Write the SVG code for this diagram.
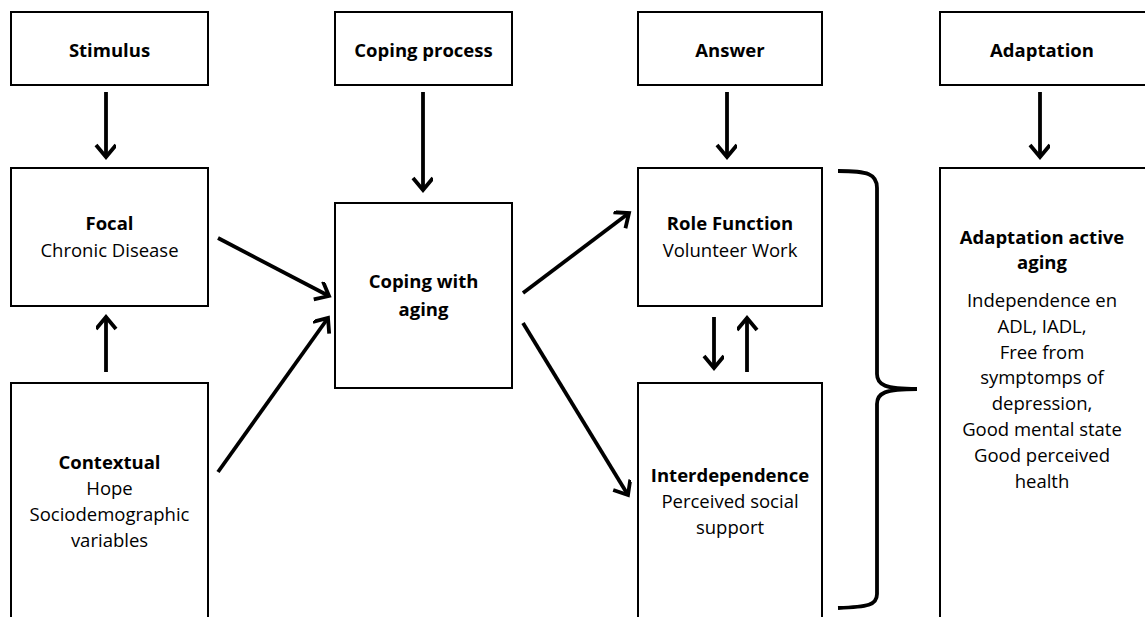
<svg xmlns="http://www.w3.org/2000/svg" width="1145" height="617" viewBox="0 0 1145 617">
<defs>
<style>
.box{fill:#fff;stroke:#000;stroke-width:2}
.t{font-family:"Open Sans","Noto Sans","Liberation Sans",sans-serif;font-size:18.5px;fill:#000;text-anchor:middle}
.b{font-weight:bold}
.c{stroke:#000;stroke-width:3.8;fill:none}
</style>
<marker id="ah" markerUnits="userSpaceOnUse" markerWidth="30" markerHeight="30" refX="14" refY="10" orient="auto" viewBox="0 0 30 30">
<path d="M2,0 L14,10 L2,20" fill="none" stroke="#000" stroke-width="3.8" stroke-linecap="butt"/>
</marker>
</defs>
<rect width="1145" height="617" fill="#fff"/>
<g id="stimulus"><rect class="box" x="11" y="12" width="197" height="73"/><text class="t b" x="109.5" y="57">Stimulus</text></g>
<g id="coping-process"><rect class="box" x="335" y="12" width="177" height="73"/><text class="t b" x="423.5" y="57">Coping process</text></g>
<g id="answer"><rect class="box" x="638" y="12" width="184" height="73"/><text class="t b" x="730" y="57">Answer</text></g>
<g id="adaptation"><rect class="box" x="940" y="12" width="220" height="73"/><text class="t b" x="1042" y="57">Adaptation</text></g>
<g id="focal"><rect class="box" x="11" y="168" width="197" height="138"/><text class="t" x="109.5" y="230"><tspan class="b">Focal</tspan><tspan x="109.5" dy="27">Chronic Disease</tspan></text></g>
<g id="contextual"><path class="box" d="M11,630 L11,383 L208,383 L208,630"/><text class="t" x="109.5" y="469"><tspan class="b">Contextual</tspan><tspan x="109.5" dy="26">Hope</tspan><tspan x="109.5" dy="26">Sociodemographic</tspan><tspan x="109.5" dy="26">variables</tspan></text></g>
<g id="coping-aging"><rect class="box" x="335" y="203" width="177" height="185"/><text class="t b" x="423.5" y="288">Coping with<tspan x="423.5" dy="28">aging</tspan></text></g>
<g id="role-function"><rect class="box" x="638" y="168" width="184" height="138"/><text class="t" x="730" y="230"><tspan class="b">Role Function</tspan><tspan x="730" dy="27">Volunteer Work</tspan></text></g>
<g id="interdependence"><path class="box" d="M638,630 L638,383 L822,383 L822,630"/><text class="t" x="730" y="482"><tspan class="b">Interdependence</tspan><tspan x="730" dy="26">Perceived social</tspan><tspan x="730" dy="26">support</tspan></text></g>
<g id="adaptation-aging"><path class="box" d="M940,630 L940,168 L1160,168 L1160,630"/><text class="t" x="1042" y="244"><tspan class="b">Adaptation active</tspan><tspan class="b" x="1042" dy="25">aging</tspan><tspan x="1042" dy="38">Independence en</tspan><tspan x="1042" dy="25.8">ADL, IADL,</tspan><tspan x="1042" dy="25.8">Free from</tspan><tspan x="1042" dy="25.8">symptomps of</tspan><tspan x="1042" dy="25.8">depression,</tspan><tspan x="1042" dy="25.8">Good mental state</tspan><tspan x="1042" dy="25.8">Good perceived</tspan><tspan x="1042" dy="25.8">health</tspan></text></g>
<g id="connectors">
<line class="c" x1="106" y1="92" x2="106" y2="157" marker-end="url(#ah)"/>
<line class="c" x1="423" y1="92" x2="423" y2="190" marker-end="url(#ah)"/>
<line class="c" x1="727" y1="92" x2="727" y2="157" marker-end="url(#ah)"/>
<line class="c" x1="1040" y1="92" x2="1040" y2="157" marker-end="url(#ah)"/>
<line class="c" x1="106" y1="372" x2="106" y2="317" marker-end="url(#ah)"/>
<line class="c" x1="218" y1="238" x2="329" y2="296" marker-end="url(#ah)"/>
<line class="c" x1="218" y1="472" x2="328" y2="318" marker-end="url(#ah)"/>
<line class="c" x1="523" y1="293" x2="629" y2="213" marker-end="url(#ah)"/>
<line class="c" x1="523" y1="323" x2="628" y2="495" marker-end="url(#ah)"/>
<line class="c" x1="714" y1="317" x2="714" y2="368" marker-end="url(#ah)"/>
<line class="c" x1="747" y1="372" x2="747" y2="318" marker-end="url(#ah)"/>
<path class="c" stroke-width="4" d="M838,171 C868,171 877,174 877,188 L877,374 C877,385 885,389 917,389 C885,389 877,393 877,404 L877,594 C877,605 868,607 838,608"/>
</g>
</svg>
